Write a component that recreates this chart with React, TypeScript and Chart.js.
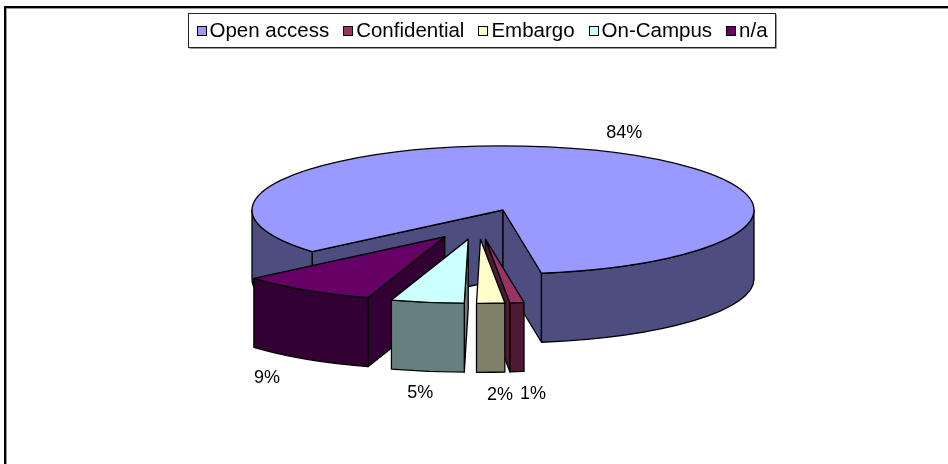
import React, { useEffect, useRef } from "react";
import { Chart, registerables } from "chart.js";

Chart.register(...registerables);

// ---- data ----
const categories = ["Open access", "Confidential", "Embargo", "On-Campus", "n/a"];
const shares = [83.8, 0.9, 1.8, 4.7, 8.8];
const topColors = ["#9999FF", "#993366", "#FFFFCC", "#CCFFFF", "#660066"];
const sideColors = ["#4D4D80", "#4D1933", "#808066", "#668080", "#330033"];

const FONT = '"Liberation Sans", Arial, sans-serif';

const pie3d = {
  id: "pie3d",
  beforeDatasetsDraw(chart: any, _args: any, opts: any) {
    const ctx: CanvasRenderingContext2D = chart.ctx;
    const meta = chart.getDatasetMeta(0);
    const arcs = meta.data as any[];
    const k = opts.squash;
    const D = opts.depth;
    const items = arcs.map((arc: any, i: number) => {
      const { x, y, startAngle: a0, endAngle: a1, outerRadius: R } = arc;
      const mid = (a0 + a1) / 2;
      const rad = opts.explode[i] || 0;
      let ex = rad * Math.cos(mid);
      let ey = rad * Math.sin(mid);
      if (rad > 0) {
        ex += opts.groupShift[0];
        ey += opts.groupShift[1];
      }
      const X = x + ex;
      const Y = y + k * ey;
      return { arc, i, a0, a1, R, mid, X, Y, ex, ey, cy: y, key: Y + k * R * 0.5 * Math.sin(mid) };
    });
    const order = [...items].sort((p, q) => p.key - q.key);
    ctx.save();
    ctx.lineWidth = opts.lineWidth;
    ctx.strokeStyle = "#000";
    ctx.lineJoin = "round";
    for (const it of order) {
      const { a0, a1, R, X, Y } = it;
      const ry = k * R;
      ctx.fillStyle = sideColors[it.i];
      const radial = (a: number) => {
        ctx.beginPath();
        ctx.moveTo(X, Y);
        ctx.lineTo(X + R * Math.cos(a), Y + ry * Math.sin(a));
        ctx.lineTo(X + R * Math.cos(a), Y + ry * Math.sin(a) + D);
        ctx.lineTo(X, Y + D);
        ctx.closePath();
        ctx.fill();
        ctx.stroke();
      };
      if (Math.cos(a0) < 0) radial(a0);
      if (Math.cos(a1) > 0) radial(a1);
      for (let n = -1; n <= 2; n++) {
        const lo = Math.max(a0, 2 * Math.PI * n);
        const hi = Math.min(a1, 2 * Math.PI * n + Math.PI);
        if (hi - lo > 1e-4) {
          ctx.beginPath();
          ctx.ellipse(X, Y, R, ry, 0, lo, hi, false);
          ctx.lineTo(X + R * Math.cos(hi), Y + ry * Math.sin(hi) + D);
          ctx.ellipse(X, Y + D, R, ry, 0, hi, lo, true);
          ctx.closePath();
          ctx.fill();
          ctx.stroke();
        }
      }
      // top face drawn by the Chart.js arc element, squashed into an ellipse
      ctx.save();
      ctx.translate(it.ex, it.cy + k * it.ey);
      ctx.scale(1, k);
      ctx.translate(0, -it.cy);
      it.arc.draw(ctx);
      ctx.restore();
      ctx.beginPath();
      ctx.moveTo(X, Y);
      ctx.ellipse(X, Y, R, ry, 0, a0, a1, false);
      ctx.closePath();
      ctx.stroke();
    }
    // data labels
    const values = chart.data.datasets[0].data as number[];
    ctx.fillStyle = "#000";
    ctx.font = `${opts.labelFontSize}px ${FONT}`;
    ctx.textAlign = "center";
    ctx.textBaseline = "middle";
    for (const it of items) {
      const r = opts.labelRadius * it.R;
      const z = Math.sin(it.mid) > 0 ? D : 0;
      const lx = it.X + r * Math.cos(it.mid) + opts.labelShift[0];
      const ly = it.Y + k * r * Math.sin(it.mid) + z + opts.labelShift[1];
      ctx.fillText(`${Math.round(values[it.i])}%`, lx, ly);
    }
    ctx.restore();
    return false;
  },
  afterDraw(chart: any, _args: any, opts: any) {
    const ctx: CanvasRenderingContext2D = chart.ctx;
    const labels = chart.data.labels as string[];
    const colors = chart.data.datasets[0].backgroundColor as string[];
    const lg = opts.legend;
    ctx.save();
    ctx.font = `${lg.fontSize}px ${FONT}`;
    const widths = labels.map((l) => ctx.measureText(l).width);
    let W = 2 * lg.padX + lg.spacing * (labels.length - 1);
    widths.forEach((w) => (W += lg.box + lg.gap + w));
    W = Math.round(W);
    const left = Math.round(lg.centerX - W / 2) + 0.5;
    ctx.fillStyle = "#fff";
    ctx.fillRect(left, lg.top + 0.5, W, lg.height);
    ctx.strokeStyle = "#222";
    ctx.lineWidth = 1;
    ctx.strokeRect(left, lg.top + 0.5, W, lg.height);
    ctx.strokeStyle = "#999";
    ctx.beginPath();
    ctx.moveTo(left + 1, lg.top + lg.height + 1.5);
    ctx.lineTo(left + W + 1, lg.top + lg.height + 1.5);
    ctx.lineTo(left + W + 1, lg.top + 1.5);
    ctx.stroke();
    ctx.strokeStyle = "#000";
    const cy = lg.top + lg.height / 2;
    let x = left + lg.padX;
    ctx.textBaseline = "middle";
    ctx.textAlign = "left";
    labels.forEach((l, i) => {
      const by = Math.round(cy - lg.box / 2) + 0.5;
      ctx.fillStyle = colors[i];
      ctx.fillRect(Math.round(x) + 0.5, by, lg.box, lg.box);
      ctx.strokeRect(Math.round(x) + 0.5, by, lg.box, lg.box);
      x += lg.box + lg.gap;
      ctx.fillStyle = "#000";
      ctx.fillText(l, x, cy + 1);
      x += widths[i] + lg.spacing;
    });
    ctx.restore();
  },
};

export default function App() {
  const ref = useRef<HTMLCanvasElement | null>(null);
  useEffect(() => {
    if (!ref.current) return;
    const chart = new Chart(ref.current, {
      type: "pie",
      data: {
        labels: categories,
        datasets: [
          {
            data: shares,
            backgroundColor: topColors,
            borderWidth: 0,
          },
        ],
      },
      options: {
        animation: false,
        responsive: false,
        events: [],
        rotation: 229.5,
        radius: 251,
        layout: { padding: { left: 58, right: 0, top: 0, bottom: 44 } },
        plugins: {
          legend: { display: false },
          tooltip: { enabled: false },
          title: { display: false },
          pie3d: {
            squash: 0.255,
            depth: 69,
            explode: [0, 60, 60, 60, 60],
            groupShift: [-25, 55],
            lineWidth: 1.3,
            labelRadius: 1.32,
            labelShift: [6, 2],
            labelFontSize: 18,
            legend: {
              fontSize: 20.5,
              box: 9,
              gap: 4,
              spacing: 14,
              padX: 8,
              centerX: 481,
              top: 13,
              height: 34,
            },
          },
        } as any,
      },
      plugins: [pie3d as any],
    });
    return () => chart.destroy();
  }, []);
  return (
    <div style={{ position: "fixed", left: 0, top: 0, width: 948, height: 464, background: "#fff", overflow: "hidden" }}>
      <div
        style={{
          position: "absolute",
          left: 4,
          top: 6,
          width: 1200,
          height: 900,
          border: "2px solid #000",
          boxShadow: "1px 1px 0 #999 inset",
        }}
      />
      <canvas ref={ref} width={948} height={464} style={{ position: "absolute", left: 0, top: 0, width: 948, height: 464 }} />
    </div>
  );
}
